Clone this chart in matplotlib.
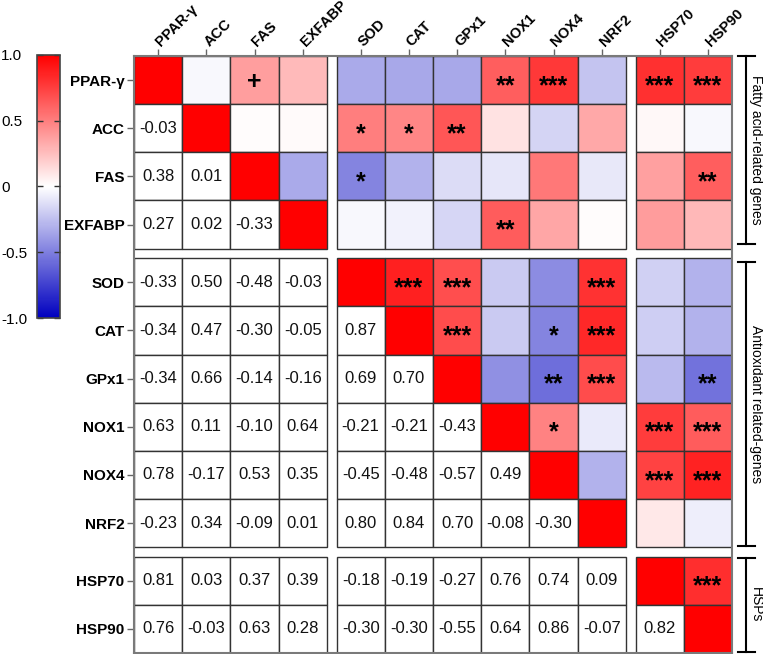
import numpy as np
import matplotlib
matplotlib.use("Agg")
import matplotlib.pyplot as plt
from matplotlib.colors import LinearSegmentedColormap, Normalize
from matplotlib.patches import Rectangle
import matplotlib.cm as cm

plt.rcParams['font.family'] = ['Liberation Sans', 'DejaVu Sans']

genes = ["PPAR-γ", "ACC", "FAS", "EXFABP", "SOD", "CAT", "GPx1",
         "NOX1", "NOX4", "NRF2", "HSP70", "HSP90"]
group_of = [0, 0, 0, 0, 1, 1, 1, 1, 1, 1, 2, 2]
group_names = ["Fatty acid-related genes", "Antioxidant related-genes", "HSPs"]

# lower triangle correlation values (row i, columns 0..i-1)
lower = [
    [],
    [-0.03],
    [0.38, 0.01],
    [0.27, 0.02, -0.33],
    [-0.33, 0.50, -0.48, -0.03],
    [-0.34, 0.47, -0.30, -0.05, 0.87],
    [-0.34, 0.66, -0.14, -0.16, 0.69, 0.70],
    [0.63, 0.11, -0.10, 0.64, -0.21, -0.21, -0.43],
    [0.78, -0.17, 0.53, 0.35, -0.45, -0.48, -0.57, 0.49],
    [-0.23, 0.34, -0.09, 0.01, 0.80, 0.84, 0.70, -0.08, -0.30],
    [0.81, 0.03, 0.37, 0.39, -0.18, -0.19, -0.27, 0.76, 0.74, 0.09],
    [0.76, -0.03, 0.63, 0.28, -0.30, -0.30, -0.55, 0.64, 0.86, -0.07, 0.82],
]

# significance markers in upper triangle (row gene, column gene, mark)
signif = [
    ("PPAR-γ", "FAS", "+"), ("PPAR-γ", "NOX1", "**"), ("PPAR-γ", "NOX4", "***"),
    ("PPAR-γ", "HSP70", "***"), ("PPAR-γ", "HSP90", "***"),
    ("ACC", "SOD", "*"), ("ACC", "CAT", "*"), ("ACC", "GPx1", "**"),
    ("FAS", "SOD", "*"), ("FAS", "HSP90", "**"),
    ("EXFABP", "NOX1", "**"),
    ("SOD", "CAT", "***"), ("SOD", "GPx1", "***"), ("SOD", "NRF2", "***"),
    ("CAT", "GPx1", "***"), ("CAT", "NOX4", "*"), ("CAT", "NRF2", "***"),
    ("GPx1", "NOX4", "**"), ("GPx1", "NRF2", "***"), ("GPx1", "HSP90", "**"),
    ("NOX1", "NOX4", "*"), ("NOX1", "HSP70", "***"), ("NOX1", "HSP90", "***"),
    ("NOX4", "HSP70", "***"), ("NOX4", "HSP90", "***"),
    ("HSP70", "HSP90", "***"),
]

cbar_ticks = [-1.0, -0.5, 0.0, 0.5, 1.0]
cbar_labels = ["-1.0", "-0.5", "0", "0.5", "1.0"]

cmap = LinearSegmentedColormap.from_list(
    "bwr_custom", [(0.0, 0.0, 0.75), (1.0, 1.0, 1.0), (1.0, 0.0, 0.0)])
norm = Normalize(vmin=-1, vmax=1)

n = len(genes)
R = np.eye(n)
for i, row in enumerate(lower):
    for j, v in enumerate(row):
        R[i, j] = v
        R[j, i] = v

G = 0.2
def pos(k):
    return k + G * group_of[k]
total = n + G * max(group_of)

fig = plt.figure(figsize=(7.63, 6.54), dpi=100)
ax = fig.add_axes([134 / 763, 1 - 653 / 654, 598 / 763, 597 / 654])

edge = '#333333'
for i in range(n):
    for j in range(n):
        x0, y0 = pos(j), pos(i)
        fc = cmap(norm(R[i, j])) if j >= i else 'white'
        ax.add_patch(Rectangle((x0, y0), 1, 1, facecolor=fc,
                               edgecolor=edge, lw=1.0))
        if j < i:
            ax.text(x0 + 0.5, y0 + 0.5, f"{R[i, j]:.2f}", ha='center',
                    va='center', fontsize=12, color='#111111')

idx = {g: k for k, g in enumerate(genes)}
for a, b, s in signif:
    i, j = idx[a], idx[b]
    size = 18
    k = 0.36 if s == "+" else 0.52
    ax.annotate(s, xy=(pos(j) + 0.5, pos(i) + 0.5),
                xytext=(0, -k * size), textcoords='offset points',
                ha='center', va='baseline', fontsize=size,
                fontweight='bold', color='black')

ax.set_xlim(0, total)
ax.set_ylim(total, 0)
ticks = [pos(k) + 0.5 for k in range(n)]
ax.xaxis.tick_top()
ax.set_xticks(ticks)
ax.set_xticklabels(genes, rotation=45, ha='left', va='center',
                   rotation_mode='anchor', fontweight='bold', fontsize=10.5)
ax.set_yticks(ticks)
ax.set_yticklabels(genes, fontweight='bold', fontsize=11)
ax.tick_params(length=5, width=1, color='#666666')
ax.tick_params(axis='x', pad=3.5)
ax.tick_params(axis='y', pad=2)
for sp in ax.spines.values():
    sp.set_edgecolor('#7a7a7a')
    sp.set_linewidth(1.5)

# group brackets on the right
brackets = [(0.0, 3.9), (4.27, 10.18), (10.42, 12.38)]
bx = 12.70
cap = 0.17
for (y0, y1), name in zip(brackets, group_names):
    ax.plot([bx, bx], [y0, y1], color='black', lw=1.5, clip_on=False)
    ax.plot([bx - cap, bx + cap], [y0, y0], color='black', lw=1.5, clip_on=False)
    ax.plot([bx - cap, bx + cap], [y1, y1], color='black', lw=1.5, clip_on=False)
    ax.text(12.90, (y0 + y1) / 2, name, rotation=270, ha='center',
            va='center', fontsize=10, clip_on=False)

# colorbar
cax = fig.add_axes([37 / 763, 1 - 318 / 654, 23 / 763, 263 / 654])
cb = fig.colorbar(cm.ScalarMappable(norm=norm, cmap=cmap), cax=cax,
                  ticks=cbar_ticks)
cb.outline.set_edgecolor('#444444')
cb.outline.set_linewidth(1.2)
cax.set_yticks(cbar_ticks)
cax.set_yticklabels(cbar_labels)
cax.tick_params(axis='y', left=True, right=True, labelleft=True,
                labelright=False, direction='in', length=4, width=1,
                color='#333333', pad=26, labelsize=11)
for t in cax.get_yticklabels():
    t.set_ha('left')

fig.savefig("out.png", dpi=100)
